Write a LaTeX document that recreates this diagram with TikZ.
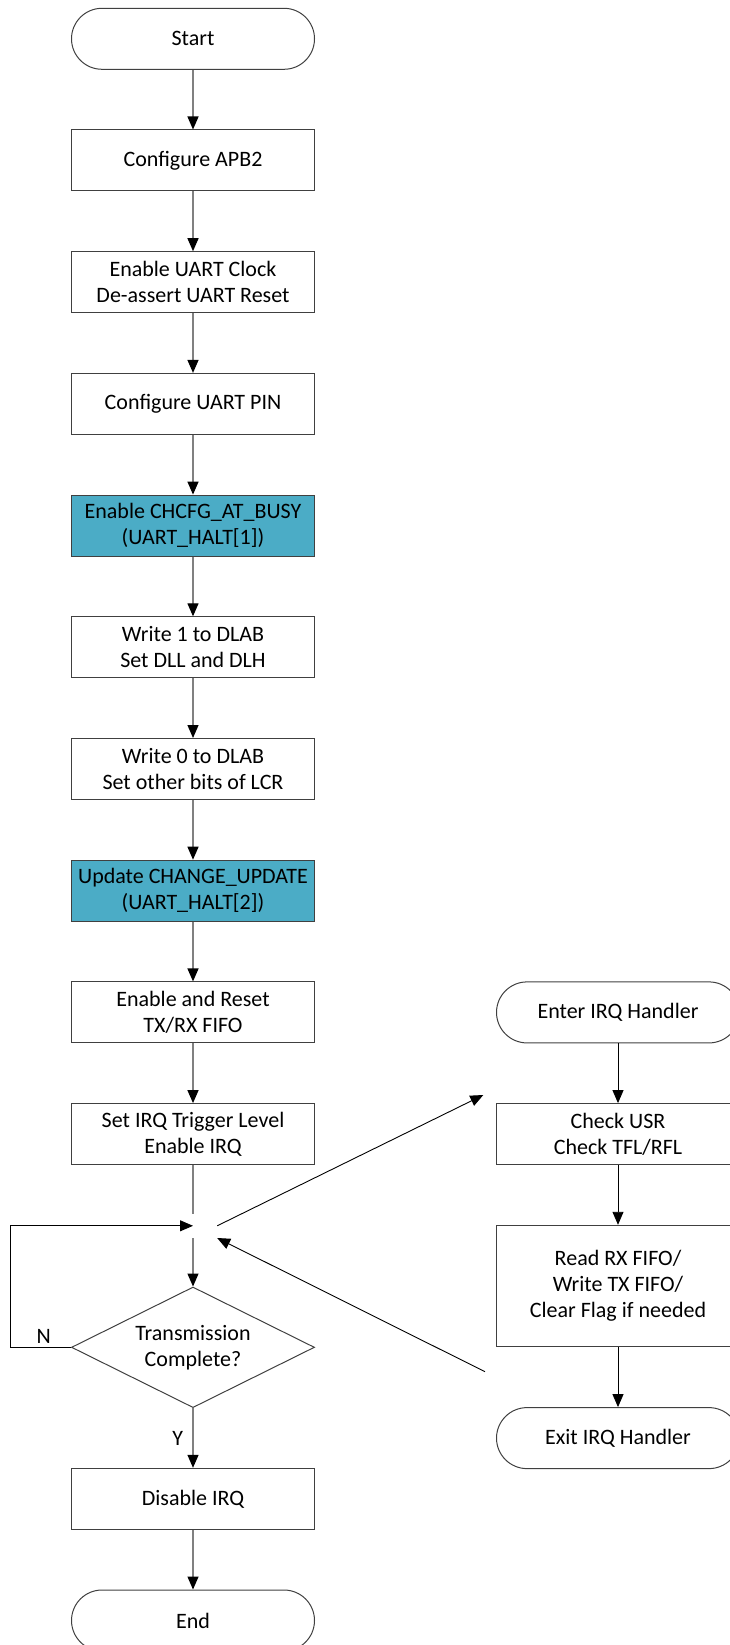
\documentclass[tikz,border=0pt]{standalone}
\usepackage{fontspec}
\setmainfont{Carlito}
\usepackage{tikz}
\usetikzlibrary{arrows.meta, shapes.geometric, positioning}
\definecolor{halt}{HTML}{4BACC6}

\begin{document}
\begin{tikzpicture}[x=1pt, y=-1pt,
    >={Triangle[length=13pt, width=11pt, color=black]},
    font=\fontsize{22}{26}\selectfont,
    node distance=59.7pt,
    box/.style={draw=black!75, line width=1pt, minimum width=243pt, minimum height=61pt, inner sep=2pt, align=center},
    term/.style={box, rounded corners=30.5pt},
    halted/.style={box, fill=halt},
    cond/.style={draw=black!75, line width=1pt, diamond, aspect=2, minimum width=243pt, minimum height=120.6pt, inner sep=1pt, align=center},
    link/.style={->, draw=black!50, line width=1.3pt},
    arm/.style={->, line width=0.9pt}]
    \useasboundingbox (0,0) rectangle (730,1645);
    \clip (0,0) rectangle (730,1645);

    % Main flow
    \node[term] (start) at (193,38.8) {Start};
    \node[box, below=of start] (apb) {Configure APB2};
    \node[box, below=of apb] (clk) {Enable UART Clock\\De-assert UART Reset};
    \node[box, below=of clk] (pin) {Configure UART PIN};
    \node[halted, below=of pin] (busy) {Enable CHCFG\_AT\_BUSY\\(UART\_HALT[1])};
    \node[box, below=of busy] (dlab1) {Write 1 to DLAB\\Set DLL and DLH};
    \node[box, below=of dlab1] (dlab0) {Write 0 to DLAB\\Set other bits of LCR};
    \node[halted, below=of dlab0] (upd) {Update CHANGE\_UPDATE\\(UART\_HALT[2])};
    \node[box, below=of upd] (fifo) {Enable and Reset\\TX/RX FIFO};
    \node[box, below=of fifo] (irq) {Set IRQ Trigger Level\\Enable IRQ};
    \node[minimum width=48pt, minimum height=24pt, inner sep=0pt, below=48.5pt of irq] (junc) {};
    \node[cond, below=48.5pt of junc] (done) {Transmission\\Complete?};
    \node[box, below=of done] (dis) {Disable IRQ};
    \node[term, below=of dis] (fin) {End};

    % IRQ handler
    \node[term, right=181pt of fifo] (enter) {Enter IRQ Handler};
    \node[box, below=of enter] (usr) {Check USR\\Check TFL/RFL};
    \node[box, minimum height=121.6pt, below=of usr] (rw) {Read RX FIFO/\\Write TX FIFO/\\Clear Flag if needed};
    \node[term, below=of rw] (leave) {Exit IRQ Handler};

    % Arrows
    \foreach \a/\b in {start/apb, apb/clk, clk/pin, pin/busy, busy/dlab1, dlab1/dlab0, dlab0/upd, upd/fifo, fifo/irq, junc/done, dis/fin}
        \draw[link] (\a) -- (\b);
    \draw[link, -] (irq) -- (junc);
    \draw[link] (done) -- node[left, xshift=-6pt] {Y} (dis);
    \draw[arm] (done.west) -- node[above, xshift=3pt] {N} ++(-60.7,0) |- (junc.center);
    \foreach \a/\b in {enter/usr, usr/rw, rw/leave}
        \draw[arm] (\a) -- (\b);

    % To and from the handler
    \coordinate (tipin) at (483.3,1095);
    \coordinate (tailout) at (485,1371.7);
    \draw[arm] (junc.east) -- (tipin);
    \draw[arm] (tailout) -- (junc.south east);
\end{tikzpicture}
\end{document}
